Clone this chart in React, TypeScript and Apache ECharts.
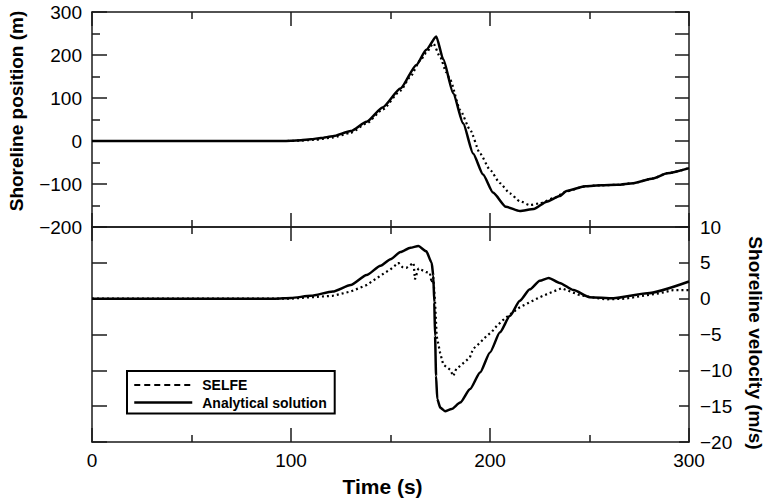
import React, { useEffect, useRef } from "react";
import * as echarts from "echarts";

// ---- Data ----
// Top panel: shoreline position (m)
const posAnalyticalT = [0, 95, 100, 105, 110, 115, 121, 130, 138, 146, 155, 163, 168, 173, 176.5, 181.5, 186.5, 191.5, 196.5, 201.5, 208, 215, 222, 228.5, 235, 238.5, 248, 256, 264, 272, 282, 289, 300];
const posAnalyticalV = [0, 0, 0.5, 2, 4, 7, 11, 23, 45, 78, 122, 177, 212, 243, 190, 111, 41, -29, -78, -120, -153, -163, -158, -141, -128, -116, -105, -103, -102, -98, -87, -75, -63];

const posSelfeT = [0, 98, 105, 112, 121, 130, 138, 146, 155, 160, 165, 168, 171.5, 175, 178, 180, 185, 190, 195, 200, 205, 210, 215, 220, 225, 232, 238.5, 248, 256, 264, 272, 282, 289, 300];
const posSelfeV = [0, 0, 1, 3, 8, 19, 41, 73, 117, 150, 188, 205, 227, 195, 160, 142, 72, 26, -29, -67, -98, -122, -140, -149, -145, -133, -117, -105, -103, -102, -98, -87, -75, -63];

// Bottom panel: shoreline velocity (m/s)
const velAnalyticalT = [0, 92, 100, 110, 121, 130, 138, 145, 150, 155, 160, 164, 168, 170.7, 171.5, 172, 172.4, 172.9, 173.5, 175, 177.4, 180.7, 185, 190, 195, 200, 205, 210, 215, 220, 225, 229.5, 235, 242, 250, 262, 279, 300];
const velAnalyticalV = [0, 0, 0.1, 0.4, 1.0, 1.9, 3.3, 4.6, 5.5, 6.5, 7.1, 7.35, 6.6, 5.0, 3.2, -0.5, -5.2, -10.8, -14, -15.2, -15.7, -15.4, -14.5, -12.6, -10.3, -7.5, -4.7, -2.4, -0.3, 1.3, 2.5, 2.9, 2.2, 1.2, 0.2, 0.05, 0.75, 2.4];

const velSelfeT = [0, 100, 110, 121, 130, 138, 146, 150, 154, 156, 158, 160, 161.6, 162.3, 164, 166.5, 168, 169.8, 170.7, 171.5, 172.4, 173.2, 174.9, 176.5, 178, 179.9, 181.6, 183, 184.9, 187, 189.9, 191.5, 193.3, 195.5, 198.3, 201, 203.4, 206.5, 210, 215, 220, 225, 230, 236, 245, 258, 268, 279, 286, 292, 300];
const velSelfeV = [0, 0, 0.2, 0.4, 1.0, 1.9, 3.4, 4.1, 5.0, 4.4, 4.3, 4.7, 5.0, 2.7, 4.2, 3.9, 3.7, 3.6, 2.2, 3.0, -0.5, -5.2, -7.5, -9.2, -9.5, -9.9, -10.8, -9.8, -9.4, -8.9, -8.2, -7.0, -6.6, -6.0, -5.2, -4.6, -3.8, -3.0, -2.2, -1.2, -0.5, 0.2, 0.8, 1.45, 0.5, -0.1, 0.0, 0.5, 0.8, 1.2, 1.2];

const seriesNames = ["SELFE", "Analytical solution"];
const xAxisTitle = "Time (s)";
const yTopTitle = "Shoreline position (m)";
const yBottomTitle = "Shoreline velocity (m/s)";

const zip = (t: number[], v: number[]) => t.map((x, i) => [x, v[i]]);

const FONT = '"Liberation Sans", Arial, Helvetica, sans-serif';
const AX = "#1a1a1a";

const fmtNum = (v: number) => (v < 0 ? "\u2212" + Math.abs(v) : String(v));

export default function App() {
  const ref = useRef<HTMLDivElement>(null);

  useEffect(() => {
    if (!ref.current) return;
    const chart = echarts.init(ref.current, undefined, { renderer: "svg" });

    const axisLine = { show: true, onZero: false, lineStyle: { color: AX, width: 1.5 } };
    const xBase = (gridIndex: number, position: string, showLabel: boolean) => ({
      type: "value",
      gridIndex,
      position,
      min: 0,
      max: 300,
      interval: 100,
      axisLine,
      axisTick: { show: true, inside: true, length: 14, lineStyle: { color: AX, width: 1.5 } },
      minorTick: { show: true, splitNumber: 2, length: 7, lineStyle: { color: AX, width: 1.5 } },
      splitLine: { show: false },
      minorSplitLine: { show: false },
      axisLabel: {
        show: showLabel,
        margin: 9,
        fontSize: 19,
        fontFamily: FONT,
        color: "#000",
      },
    });

    const hiddenSymbol = { opacity: 0, color: "transparent", borderWidth: 0 };

    const option: any = {
      animation: false,
      backgroundColor: "#fff",
      grid: [
        { left: 92, top: 12, width: 597, height: 215 },
        { left: 92, top: 227, width: 597, height: 215 },
      ],
      xAxis: [
        xBase(0, "bottom", false),
        xBase(0, "top", false),
        xBase(1, "top", false),
        xBase(1, "bottom", true),
      ],
      yAxis: [
        {
          type: "value",
          gridIndex: 0,
          position: "left",
          min: -200,
          max: 300,
          interval: 100,
          axisLine,
          axisTick: { show: true, inside: true, length: 15, lineStyle: { color: AX, width: 1.5 } },
          minorTick: { show: true, splitNumber: 2, length: 8, lineStyle: { color: AX, width: 1.5 } },
          splitLine: { show: false },
          axisLabel: {
            show: true,
            margin: 10,
            fontSize: 19,
            fontFamily: FONT,
            color: "#000",
            formatter: (v: number) => fmtNum(v),
          },
        },
        {
          type: "value",
          gridIndex: 0,
          position: "right",
          min: -200,
          max: 300,
          interval: 50,
          axisLine,
          axisTick: { show: true, inside: true, length: 14, lineStyle: { color: AX, width: 1.5 } },
          splitLine: { show: false },
          axisLabel: { show: false },
        },
        {
          type: "value",
          gridIndex: 1,
          position: "left",
          min: -20,
          max: 10,
          interval: 5,
          axisLine,
          axisTick: { show: true, inside: true, length: 15, lineStyle: { color: AX, width: 1.5 } },
          splitLine: { show: false },
          axisLabel: { show: false },
        },
        {
          type: "value",
          gridIndex: 1,
          position: "right",
          min: -20,
          max: 10,
          interval: 5,
          axisLine,
          axisTick: { show: true, inside: true, length: 10, lineStyle: { color: AX, width: 1.5 } },
          splitLine: { show: false },
          axisLabel: {
            show: true,
            margin: 11,
            fontSize: 19,
            fontFamily: FONT,
            color: "#000",
            formatter: (v: number) => fmtNum(v),
          },
        },
      ],
      legend: {
        show: true,
        orient: "vertical",
        left: 127,
        top: 371,
        padding: [7, 8, 4, 6],
        itemGap: 3.5,
        itemWidth: 58,
        itemHeight: 14,
        borderColor: "#000",
        borderWidth: 2,
        selectedMode: false,
        backgroundColor: "#fff",
        itemStyle: hiddenSymbol,
        textStyle: {
          fontFamily: FONT,
          fontWeight: "bold",
          fontSize: 14,
          color: "#000",
          padding: [0, 0, 0, 5],
        },
        data: [
          { name: seriesNames[0], itemStyle: hiddenSymbol, lineStyle: { type: [6, 4], width: 2, color: "#000" } },
          { name: seriesNames[1], itemStyle: hiddenSymbol, lineStyle: { type: "solid", width: 2.5, color: "#000" } },
        ],
      },
      graphic: [
        {
          type: "text",
          x: 16.5,
          y: 111,
          rotation: Math.PI / 2,
          style: {
            text: yTopTitle,
            fontFamily: FONT,
            fontWeight: "bold",
            fontSize: 19,
            fill: "#000",
            align: "center",
            verticalAlign: "middle",
          },
        },
        {
          type: "text",
          x: 755.5,
          y: 343,
          rotation: -Math.PI / 2,
          style: {
            text: yBottomTitle,
            fontFamily: FONT,
            fontWeight: "bold",
            fontSize: 19,
            fill: "#000",
            align: "center",
            verticalAlign: "middle",
          },
        },
        {
          type: "text",
          x: 382.5,
          y: 486,
          style: {
            text: xAxisTitle,
            fontFamily: FONT,
            fontWeight: "bold",
            fontSize: 21,
            fill: "#000",
            align: "center",
            verticalAlign: "middle",
          },
        },
      ],
      series: [
        {
          name: seriesNames[1],
          type: "line",
          xAxisIndex: 0,
          yAxisIndex: 0,
          data: zip(posAnalyticalT, posAnalyticalV),
          symbol: "none",
          showSymbol: false,
          smooth: 0.2,
          smoothMonotone: "x",
          lineStyle: { color: "#000", width: 2.5 },
          itemStyle: { color: "#000" },
          z: 3,
        },
        {
          name: seriesNames[0],
          type: "line",
          xAxisIndex: 0,
          yAxisIndex: 0,
          data: zip(posSelfeT, posSelfeV),
          symbol: "none",
          showSymbol: false,
          smooth: 0.2,
          smoothMonotone: "x",
          lineStyle: { color: "#000", width: 2.2, type: [2, 3] },
          itemStyle: { color: "#000" },
          z: 2,
        },
        {
          name: seriesNames[1],
          type: "line",
          xAxisIndex: 3,
          yAxisIndex: 3,
          data: zip(velAnalyticalT, velAnalyticalV),
          symbol: "none",
          showSymbol: false,
          smooth: 0.2,
          smoothMonotone: "x",
          lineStyle: { color: "#000", width: 2.5 },
          itemStyle: { color: "#000" },
          z: 3,
        },
        {
          name: seriesNames[0],
          type: "line",
          xAxisIndex: 3,
          yAxisIndex: 3,
          data: zip(velSelfeT, velSelfeV),
          symbol: "none",
          showSymbol: false,
          lineStyle: { color: "#000", width: 2.2, type: [2, 3] },
          itemStyle: { color: "#000" },
          z: 2,
        },
      ],
    };

    chart.setOption(option);
    return () => chart.dispose();
  }, []);

  return (
    <div
      ref={ref}
      style={{ position: "fixed", left: 0, top: 0, width: 766, height: 502, background: "#fff" }}
    />
  );
}
